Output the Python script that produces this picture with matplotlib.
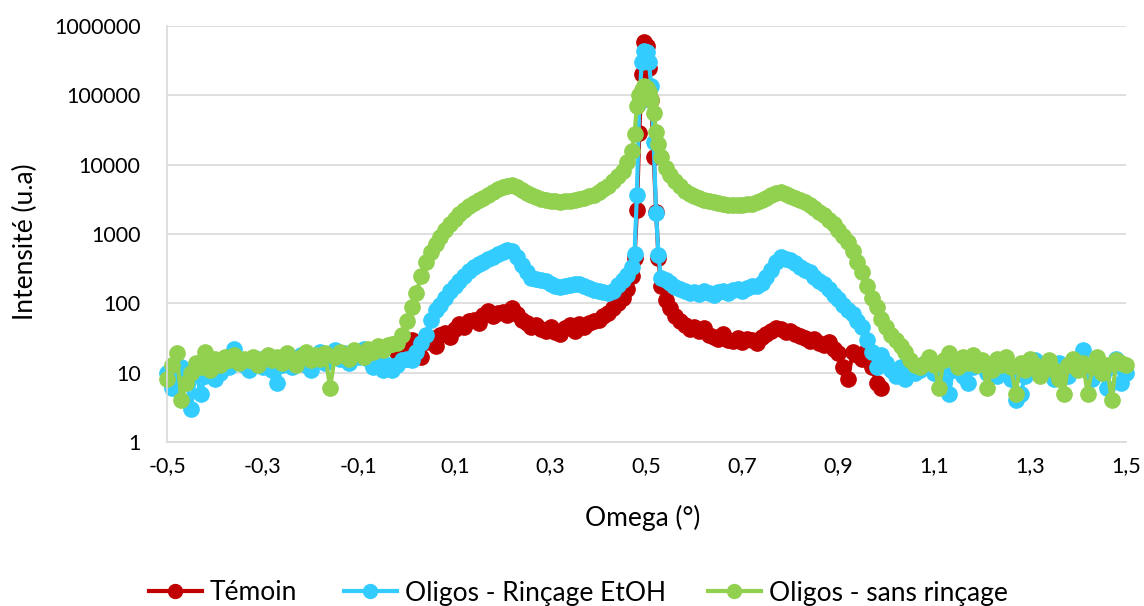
import numpy as np
import matplotlib
matplotlib.use("Agg")
import matplotlib.pyplot as plt
from matplotlib.ticker import FixedLocator, FuncFormatter, NullLocator
from matplotlib.lines import Line2D

plt.rcParams['font.family'] = ['Lato', 'DejaVu Sans']

# ---------------- data ----------------
x_left = np.round(np.arange(-0.50, 0.465, 0.01), 3)      # -0.50 .. 0.46
x_peak = [0.47, 0.475, 0.48, 0.485, 0.49, 0.495, 0.50, 0.505, 0.51, 0.515, 0.52, 0.525, 0.53]
x_right = np.round(np.arange(0.54, 1.505, 0.01), 3)      # 0.54 .. 1.50

temoin_left = [  # -0.02 .. 0.46
    20, 22, 25, 30, 22, 17, 28, 32, 24, 35,
    37, 33, 42, 50, 45, 55, 58, 52, 68, 78,
    65, 72, 75, 68, 85, 70, 58, 52, 46, 48,
    42, 40, 45, 38, 36, 44, 48, 40, 50, 46,
    52, 55, 58, 65, 72, 85, 100, 120, 160]
temoin_peak = [250, 450, 2200, 29000, 200000, 580000, 520000, 250000, 87000, 13000, 2100, 450, 180]
temoin_right = [  # 0.54 .. 0.99
    110, 85, 65, 55, 48, 42, 46, 40, 44, 35,
    33, 31, 36, 30, 29, 32, 28, 31, 30, 27,
    33, 36, 40, 44, 42, 38, 40, 36, 34, 32,
    29, 31, 27, 25, 28, 22, 19, 12, 8, 20,
    18, 16, 21, 12, 7, 6]

rincage_left = [
    10, 6, 8, 12, 9, 3, 11, 5, 9, 12,
    8, 10, 14, 12, 22, 15, 13, 11, 14, 16,
    12, 14, 11, 7, 13, 16, 12, 15, 18, 13,
    11, 16, 20, 14, 17, 21, 16, 19, 14, 20,
    17, 22, 16, 12, 14, 11, 13, 11, 13, 15,
    16, 15, 20, 27, 35, 57, 80, 95, 120, 150,
    175, 210, 250, 290, 330, 370, 400, 430, 470, 520,
    550, 590, 560, 470, 360, 280, 235, 225, 215, 210,
    190, 180, 170, 175, 185, 190, 190, 175, 165, 155,
    150, 145, 140, 150, 185, 215, 260]
rincage_peak = [330, 520, 3700, 78000, 300000, 430000, 420000, 300000, 137000, 21000, 2000, 490, 230]
rincage_right = [
    220, 195, 170, 160, 150, 140, 145, 135, 150, 140,
    130, 145, 150, 140, 155, 160, 150, 165, 175, 180,
    195, 240, 300, 400, 460, 440, 420, 380, 330, 300,
    280, 240, 210, 190, 160, 130, 115, 95, 80, 70,
    55, 45, 30, 20, 12, 18, 14, 11, 9, 12,
    8, 12, 10, 11, 14, 12, 10, 11, 7, 5,
    11, 13, 9, 7, 12, 15, 13, 10, 12, 9,
    14, 11, 8, 4, 5, 9, 12, 15, 13, 10,
    12, 8, 14, 11, 9, 13, 16, 21, 12, 8,
    14, 10, 6, 12, 16, 7, 10]

sans_left = [
    8, 13, 19, 4, 7, 10, 14, 12, 20, 11,
    16, 13, 17, 15, 18, 14, 16, 15, 17, 13,
    16, 18, 15, 17, 14, 19, 16, 13, 17, 20,
    15, 18, 16, 19, 6, 17, 20, 18, 16, 21,
    19, 17, 22, 20, 24, 21, 25, 26, 27, 35,
    55, 90, 140, 250, 400, 550, 720, 900, 1150, 1400,
    1650, 1950, 2250, 2500, 2800, 3050, 3350, 3700, 4050, 4400,
    4700, 4950, 5100, 4800, 4300, 3950, 3650, 3400, 3200, 3100,
    3000, 2950, 2900, 2950, 3000, 3100, 3200, 3350, 3500, 3700,
    4000, 4400, 5000, 5800, 6800, 8200, 11000]
sans_peak = [16000, 28000, 70000, 100000, 120000, 135000, 128000, 110000, 87000, 56000, 30000, 20000, 13000]
sans_right = [
    9000, 7000, 5800, 4900, 4200, 3800, 3500, 3300, 3100, 3000,
    2900, 2800, 2700, 2650, 2600, 2600, 2600, 2700, 2750, 2900,
    3100, 3350, 3650, 3900, 4000, 3800, 3500, 3300, 3100, 2900,
    2600, 2350, 2100, 1850, 1600, 1400, 1150, 950, 760, 570,
    400, 280, 180, 120, 90, 60, 45, 35, 30, 24,
    20, 15, 13, 12, 14, 17, 13, 6, 15, 19,
    16, 12, 17, 14, 18, 13, 15, 6, 11, 16,
    13, 17, 12, 5, 14, 11, 16, 13, 9, 12,
    15, 11, 8, 5, 13, 16, 11, 14, 5, 12,
    17, 10, 13, 4, 15, 14, 13]

series_names = ["Témoin", "Oligos - Rinçage EtOH", "Oligos - sans rinçage"]
x_ticks = [-0.5, -0.3, -0.1, 0.1, 0.3, 0.5, 0.7, 0.9, 1.1, 1.3, 1.5]
y_ticks = [1, 10, 100, 1000, 10000, 100000, 1000000]

# ---------------- assemble ----------------
x_all = np.concatenate([x_left, x_peak, x_right])
x_tem = x_all[(x_all >= -0.02 - 1e-9) & (x_all <= 0.99 + 1e-9)]
y_tem = np.array(temoin_left + temoin_peak + temoin_right, dtype=float)
y_rin = np.array(rincage_left + rincage_peak + rincage_right, dtype=float)
y_san = np.array(sans_left + sans_peak + sans_right, dtype=float)

colors = ["#C00000", "#33CCFF", "#92D050"]
LW, MS = 3.0, 11

fig = plt.figure(figsize=(11.44, 6.06), dpi=100)
ax = fig.add_axes([167/1144, 1 - 442/606, (1126 - 167)/1144, (442 - 26)/606])

for xs, ys, c, name in [(x_tem, y_tem, colors[0], series_names[0]),
                        (x_all, y_rin, colors[1], series_names[1]),
                        (x_all, y_san, colors[2], series_names[2])]:
    ax.plot(xs, ys, color=c, lw=LW, marker='o', ms=MS, mec=c, mfc=c,
            label=name, clip_on=False, solid_joinstyle='round')

ax.set_yscale('log')
ax.set_xlim(-0.5, 1.5)
ax.set_ylim(1, 1e6)
ax.yaxis.set_major_locator(FixedLocator(y_ticks))
ax.yaxis.set_minor_locator(NullLocator())
ax.yaxis.set_major_formatter(FuncFormatter(lambda v, p: f"{int(round(v))}"))
ax.xaxis.set_major_locator(FixedLocator(x_ticks))
ax.xaxis.set_major_formatter(FuncFormatter(lambda v, p: f"{v:.1f}".replace('.', ',')))

ax.grid(axis='y', color='#D9D9D9', lw=1.2)
ax.set_axisbelow(True)
for s in ['top', 'right']:
    ax.spines[s].set_visible(False)
for s in ['left', 'bottom']:
    ax.spines[s].set_color('#D9D9D9')
    ax.spines[s].set_linewidth(1.2)
ax.tick_params(axis='both', length=0, labelsize=15.5, colors='black')
ax.tick_params(axis='y', pad=19)
ax.tick_params(axis='x', pad=10)

fig.text(25/1144, 1 - 242/606, "Intensité (u.a)", rotation=90, ha='center', va='center', fontsize=19)
fig.text(643/1144, 1 - 518/606, "Omega (°)", ha='center', va='center', fontsize=19)

# legend entries placed like the reference
legend_starts = [149, 344, 708]
for c, name, xs0 in zip(colors, series_names, legend_starts):
    h = Line2D([], [], color=c, lw=LW, marker='o', ms=10, mec=c, mfc=c)
    fig.legend([h], [name], loc='center left', bbox_to_anchor=(xs0/1144, 1 - 593/606),
               frameon=False, fontsize=19, handlelength=2.0, handletextpad=0.3,
               borderpad=0, borderaxespad=0)

fig.savefig("out.png", dpi=100)
